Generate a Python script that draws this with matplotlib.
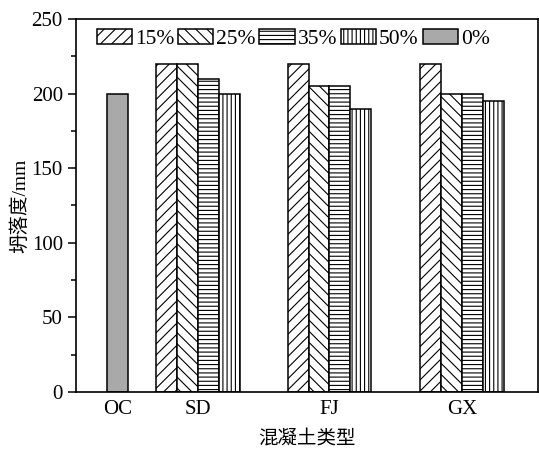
import matplotlib.pyplot as plt
from matplotlib.ticker import MultipleLocator

plt.rcParams['font.family'] = ['Liberation Serif', 'Noto Sans CJK SC']
plt.rcParams['hatch.linewidth'] = 0.8

# data
groups = ['OC', 'SD', 'FJ', 'GX']
groupPos = [0.0, 3.81, 10.1, 16.43]
ratios = ['15%', '25%', '35%', '50%']
hatches = ['///', '\\\\\\', '----', '||||']
sd = [220, 220, 210, 200]
fj = [220, 205, 205, 190]
gx = [220, 200, 200, 195]
oc = 200

fig = plt.figure(figsize=(5.39, 4.53), dpi=100)
ax = fig.add_axes([0.141, 0.135, 0.857, 0.823])

width = 1.0
series = [sd, fj, gx]
for i in range(4):
    vals = [s[i] for s in series]
    xs = [groupPos[g + 1] + (i - 1.5) * width for g in range(3)]
    ax.bar(xs, vals, width, color='white', edgecolor='black',
           hatch=hatches[i], linewidth=1.1, label=ratios[i])

ax.bar(groupPos[0], oc, width, color='#a9a9a9', edgecolor='black',
       linewidth=1.1, label='0%')

ax.set_xlim(-2.0, 20.05)
ax.set_ylim(0, 250)
ax.set_xticks(groupPos)
ax.set_xticklabels(groups)
ax.yaxis.set_major_locator(MultipleLocator(50))
ax.yaxis.set_minor_locator(MultipleLocator(25))
ax.tick_params(axis='x', length=0, labelsize=15, pad=6)
ax.tick_params(axis='y', which='major', length=6, width=1.1, labelsize=15, direction='out')
ax.tick_params(axis='y', which='minor', length=3.5, width=1.1, direction='out')
for sp in ax.spines.values():
    sp.set_linewidth(1.2)

ax.set_ylabel('坍落度/mm', fontsize=14, labelpad=2)
ax.set_xlabel('混凝土类型', fontsize=14, labelpad=8)

ax.legend(loc='center', ncol=5, frameon=False, fontsize=15.5,
          handlelength=1.63, handleheight=0.7, handletextpad=0.14,
          columnspacing=0.18, bbox_to_anchor=(0.47, 0.946), borderaxespad=0.0,
          borderpad=0.0)

plt.savefig('out.png', dpi=100)
